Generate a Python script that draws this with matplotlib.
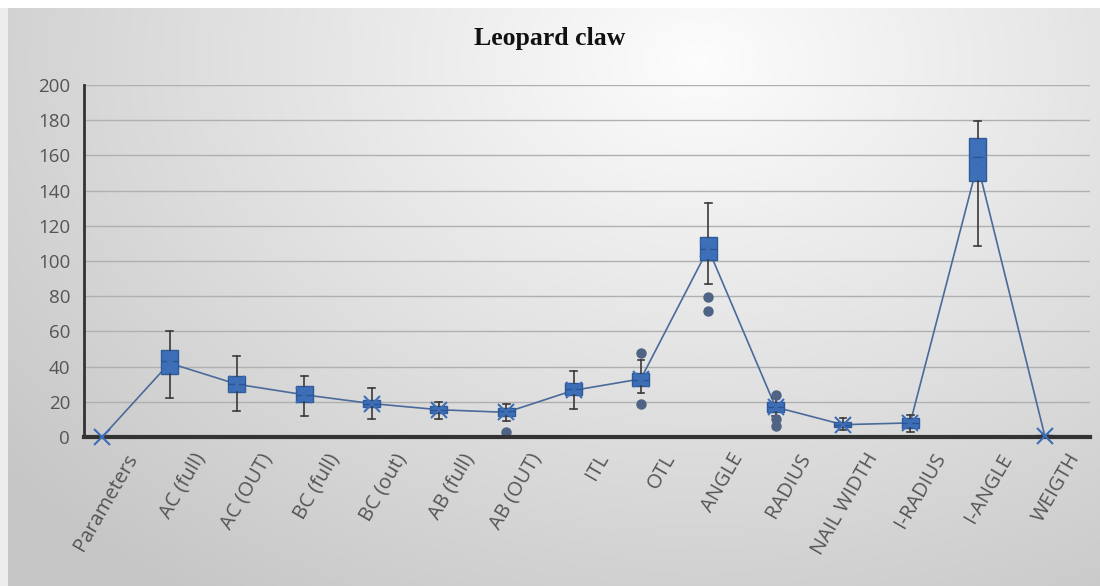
import numpy as np
import matplotlib.pyplot as plt
import matplotlib.transforms as mtransforms

categories = ['Parameters', 'AC (full)', 'AC (OUT)', 'BC (full)', 'BC (out)',
              'AB (full)', 'AB (OUT)', 'ITL', 'OTL', 'ANGLE', 'RADIUS',
              'NAIL WIDTH', 'I-RADIUS', 'I-ANGLE', 'WEIGTH']
whislo = [0, 22, 15, 12, 10, 10, 9, 16, 25, 87, 12, 4, 3, 108.5, 0]
q1 = [0, 36, 25.5, 20, 17, 13.5, 12, 24, 29, 100.5, 14, 5.5, 5, 145.5, 0]
med = [0, 43, 30, 24, 19, 15.5, 14.5, 27, 32.5, 107, 17, 7, 8, 159, 0.5]
q3 = [0, 49.5, 34.5, 29, 21, 17.5, 16.5, 30.5, 36.5, 113.5, 20, 8.5, 11, 170, 1]
whishi = [0, 60.5, 46, 34.5, 28, 20, 19, 37.5, 43.5, 133, 22, 11, 12.5, 179.5, 1]
means = [0, 42, 30, 24, 19, 15.5, 14, 26.5, 33, 107, 17, 7, 8, 155, 0.5]
outliers = [[], [], [], [], [], [], [3], [], [48, 19], [79.5, 71.5],
            [24, 10, 6.5], [], [], [], []]

plt.rcParams['font.family'] = ['Open Sans', 'DejaVu Sans']

fig = plt.figure(figsize=(11, 5.86), dpi=100)

# soft grey gradient behind everything
bg = fig.add_axes([0, 0, 1, 1], zorder=-10)
yy, xx = np.mgrid[0:586, 0:1100]
d = np.sqrt(((xx - 700) / 1100.0) ** 2 + ((yy - 60) / 800.0) ** 2)
shade = np.clip(0.99 - 0.26 * d, 0.78, 0.99)
img = np.dstack([shade, shade, shade])
img[:8, :, :] = 1.0
img[:, :8, :] = np.maximum(img[:, :8, :], 0.93)
bg.imshow(img, aspect='auto', extent=[0, 1, 0, 1], origin='upper')
bg.axis('off')

ax = fig.add_axes([84 / 1100, 149 / 586, 1006 / 1100, 352 / 586])
ax.set_facecolor('none')

stats = []
for i in range(len(categories)):
    stats.append(dict(whislo=whislo[i], q1=q1[i], med=med[i], q3=q3[i],
                      whishi=whishi[i], mean=means[i], fliers=outliers[i]))

pos = np.arange(len(categories))

# line through the means
ax.plot(pos, means, color='#4a6a9a', linewidth=1.2, zorder=2)

parts = ax.bxp(stats, positions=pos, widths=0.25, capwidths=0.1, patch_artist=True,
               showmeans=True, manage_ticks=False,
               boxprops=dict(facecolor='#3d70b8', edgecolor='#2f5a9a', linewidth=1),
               medianprops=dict(color='#2c5492', linewidth=1),
               whiskerprops=dict(color='#3a3a3a', linewidth=1.2),
               capprops=dict(color='#3a3a3a', linewidth=1.2),
               meanprops=dict(marker='x', markeredgecolor='#3d6db5', markersize=11,
                              markeredgewidth=1.5),
               flierprops=dict(marker='o', markerfacecolor='#4f6385',
                               markeredgecolor='#4f6385', markersize=6.5))
for m in parts['means']:
    m.set_clip_on(False)
    m.set_zorder(5)

ax.set_xlim(-0.27, 14.67)
ax.set_ylim(0, 200)
ax.set_yticks(range(0, 201, 20))
ax.yaxis.grid(True, color='#b0b0b0', linewidth=1)
ax.set_axisbelow(True)

ax.spines['top'].set_visible(False)
ax.spines['right'].set_visible(False)
ax.spines['left'].set_color('#333333')
ax.spines['left'].set_linewidth(2)
ax.spines['bottom'].set_color('#333333')
ax.spines['bottom'].set_linewidth(3)
ax.spines['bottom'].set_zorder(4)

ax.tick_params(axis='both', length=0, labelcolor='#555555')
ax.tick_params(axis='y', pad=10, labelsize=13.5)
ax.tick_params(axis='x', labelsize=14.5)
ax.set_xticks(pos)
ax.set_xticklabels(categories, rotation=60, ha='right', rotation_mode='anchor')
shift = mtransforms.ScaledTranslation(22 / 100, -8 / 100, fig.dpi_scale_trans)
for lbl in ax.get_xticklabels():
    lbl.set_transform(lbl.get_transform() + shift)

fig.text(0.5, 1 - 38 / 586, 'Leopard claw', ha='center', va='center',
         fontsize=18.5, fontweight='bold', family='Liberation Serif', color='#111111')

fig.savefig('out.png', dpi=100)
